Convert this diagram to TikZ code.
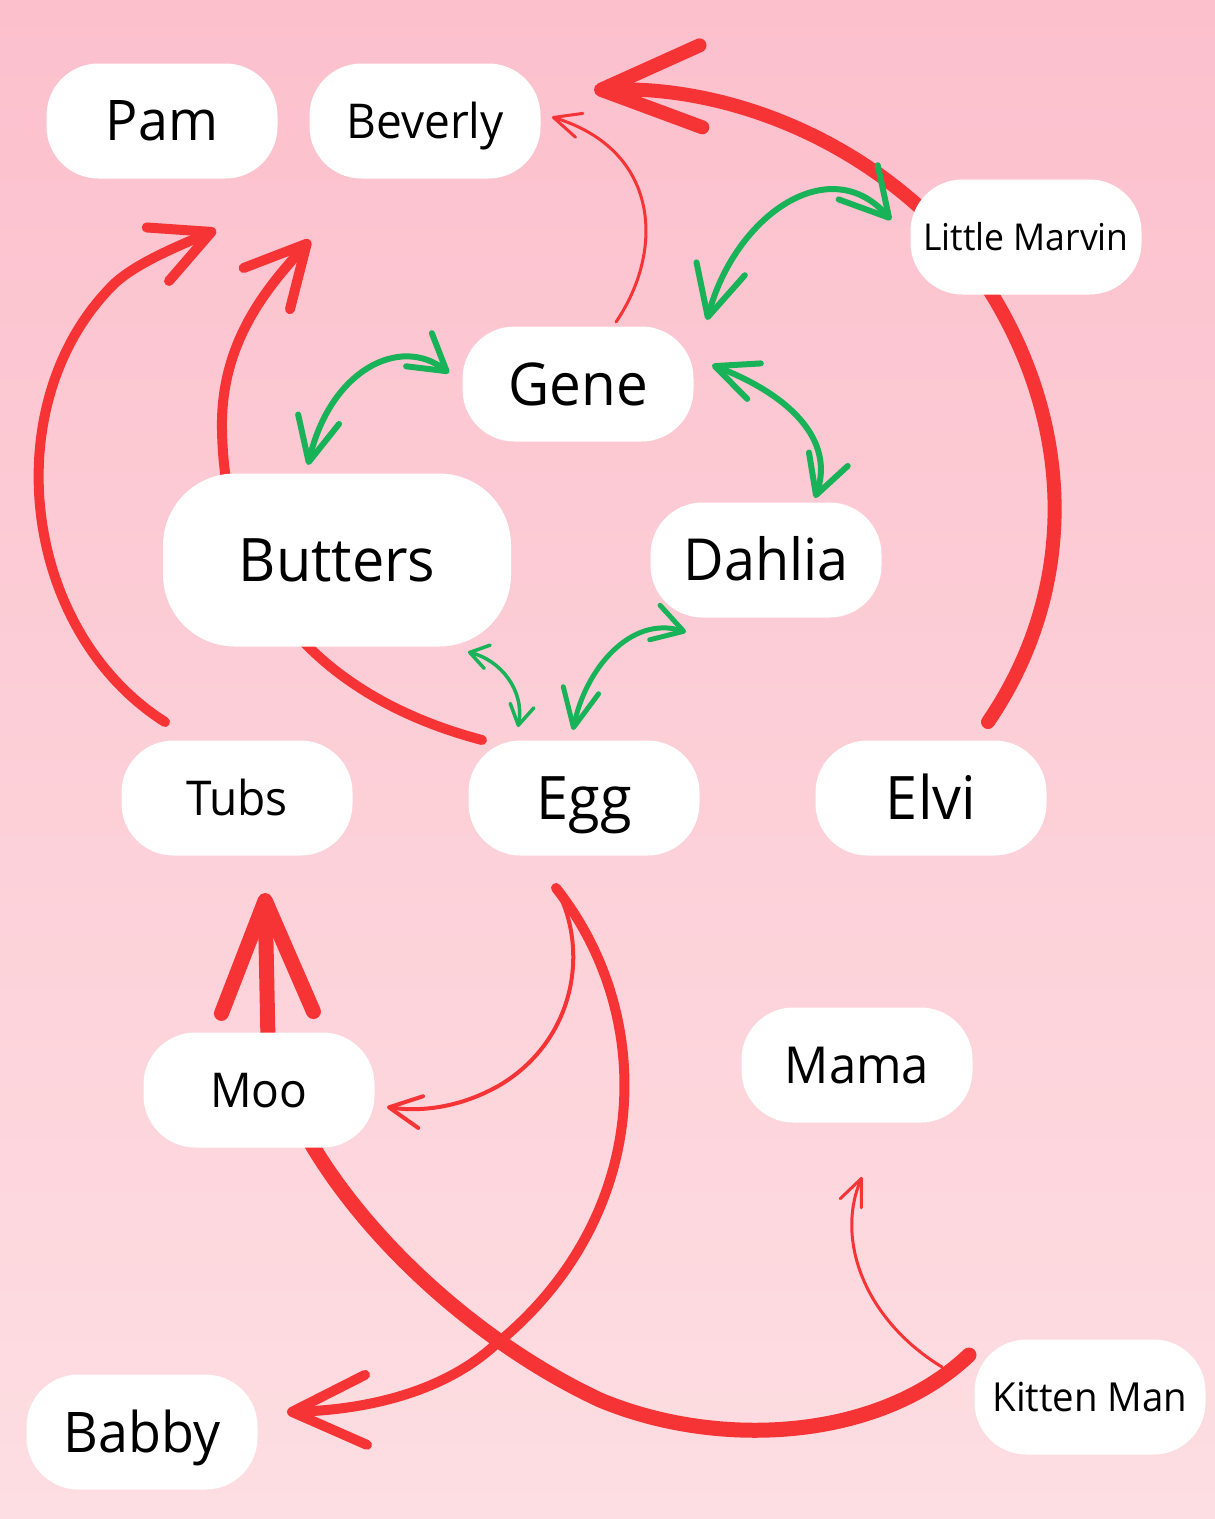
\documentclass[tikz,border=0pt]{standalone}
\usepackage{fontspec}
\setmainfont{Open Sans}[FakeStretch=0.96]
\usetikzlibrary{arrows.meta,calc}
\pgfdeclarelayer{background}
\pgfsetlayers{background,main}
\definecolor{bgtop}{RGB}{252,192,205}
\definecolor{bgbot}{RGB}{253,222,226}
\definecolor{redc}{RGB}{246,52,54}
\definecolor{greenc}{RGB}{24,178,88}
\tikzset{
  pill/.style={fill=white, rounded corners=52pt, minimum width=231pt, minimum height=115pt, inner sep=0pt, text=black},
  bigpill/.style={fill=white, rounded corners=72pt, minimum width=348pt, minimum height=173pt, inner sep=0pt, text=black},
  fs/.style={font=\fontsize{#1}{#1}\selectfont, text height=0.714*#1pt, text depth=0pt},
  redline/.style={draw=redc, line cap=round, line join=round},
  greenline/.style={draw=greenc, line cap=round, line join=round, line width=6pt},
}
\newcommand{\rtip}[2]{Straight Barb[length=#1pt, width=#2pt, round]}
\begin{document}
\begin{tikzpicture}[x=1pt,y=-1pt]
\useasboundingbox (0,0) rectangle (1215,1519);
% nodes
\node[pill, fs=56] (pam) at (162,121) {Pam};
\node[pill, fs=48] (beverly) at (425,121) {Beverly};
\node[pill, fs=37] (marvin) at (1026,237) {Little Marvin};
\node[pill, fs=59] (gene) at (578,384) {Gene};
\node[bigpill, fs=60] (butters) at (337,560) {Butters};
\node[pill, fs=58] (dahlia) at (766,560) {Dahlia};
\node[pill, fs=48] (tubs) at (237,798) {Tubs};
\node[pill, fs=60] (egg) at (584,798) {Egg};
\node[pill, fs=60] (elvi) at (931,798) {Elvi};
\node[pill, fs=48] (moo) at (259,1090) {Moo};
\node[pill, fs=51] (mama) at (857,1065) {Mama};
\node[pill, fs=56] (babby) at (142,1432) {Babby};
\node[pill, fs=40] (kitten) at (1090,1397) {Kitten Man};
\begin{pgfonlayer}{background}
\shade[top color=bgtop, bottom color=bgbot] (0,0) rectangle (1215,1519);
% Elvi -> Beverly (big arc)
\draw[redline, line width=14pt, -{\rtip{100}{82}}] ($(elvi)+(57,-76)$) .. controls (1085,580) and (1075,400) .. (965,255) .. controls (880,150) and (740,85) .. ($(beverly)+(169,-31)$);
% Tubs -> Pam
\draw[redline, line width=10pt, -{\rtip{58}{58}}] ($(tubs)+(-72,-76)$) .. controls (20,630) and (-5,400) .. (115,283) .. controls (135,265) and (168,250) .. ($(pam)+(54,109)$);
% Egg -> Beverly
\draw[redline, line width=10pt, -{\rtip{60}{62}}] ($(egg)+(-102,-58)$) .. controls (330,700) and (225,600) .. (222,430) .. controls (220,340) and (270,285) .. ($(beverly)+(-115,119)$);
% Kitten Man -> Tubs
\draw[redline, line width=15pt, -{\rtip{112}{92}}] ($(kitten)+(-121,-42)$) .. controls (880,1440) and (720,1450) .. (600,1400) .. controls (450,1330) and (300,1180) .. (268,1040) -- ($(tubs)+(28,95)$);
% Egg -> Babby
\draw[redline, line width=10pt, -{\rtip{74}{70}}] ($(egg)+(-28,90)$) .. controls (660,1020) and (650,1220) .. (495,1345) .. controls (440,1395) and (360,1410) .. ($(babby)+(145,-20)$);
% Egg -> Moo (thin)
\draw[redline, line width=4pt, -{\rtip{32}{32}}] ($(egg)+(-28,90)$) .. controls (590,950) and (575,1040) .. (500,1085) .. controls (460,1108) and (420,1112) .. ($(moo)+(128,17)$);
% Gene -> Beverly (thin)
\draw[redline, line width=3pt, -{\rtip{27}{25}}] ($(gene)+(38,-62)$) .. controls (665,250) and (660,150) .. ($(beverly)+(127,-4)$);
% Kitten Man -> Mama (thin)
\draw[redline, line width=3pt, -{\rtip{27}{23}}] ($(kitten)+(-148,-30)$) .. controls (865,1320) and (835,1240) .. ($(mama)+(5,112)$);
% green double arrows
\draw[greenline, {\rtip{50}{50}}-{\rtip{47}{52}}] ($(gene)+(129,-64)$) .. controls (735,215) and (830,150) .. ($(marvin)+(-135,-17)$);
\draw[greenline, {\rtip{35}{42}}-{\rtip{44}{42}}] ($(gene)+(-129,-11)$) .. controls (400,335) and (330,370) .. ($(butters)+(-29,-95)$);
\draw[greenline, {\rtip{42}{38}}-{\rtip{38}{41}}] ($(gene)+(134,-19)$) .. controls (790,395) and (835,440) .. ($(dahlia)+(49,-62)$);
\draw[greenline, line width=3.5pt, {\rtip{18}{24}}-{\rtip{20}{24}}] ($(butters)+(131,92)$) .. controls (500,660) and (525,690) .. ($(egg)+(-66,-71)$);
\draw[greenline, line width=5pt, {\rtip{30}{36}}-{\rtip{38}{36}}] ($(dahlia)+(-80,72)$) .. controls (630,615) and (585,670) .. ($(egg)+(-11,-68)$);
\end{pgfonlayer}
\end{tikzpicture}
\end{document}
